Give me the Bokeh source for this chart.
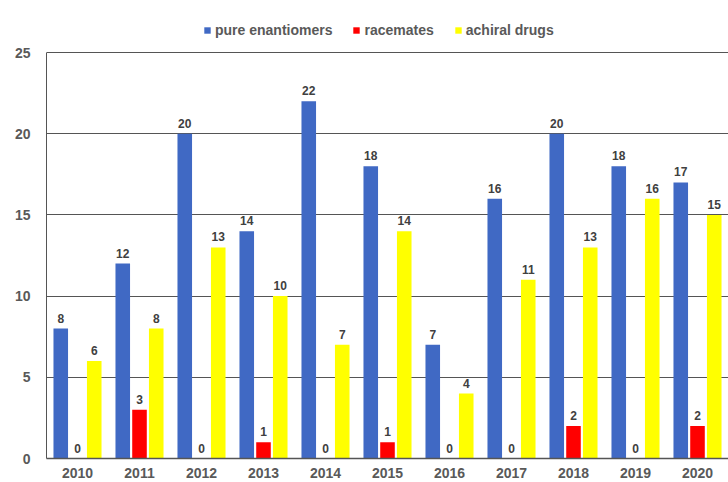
from bokeh.plotting import figure
from bokeh.models import FactorRange, Legend, LegendItem, ColumnDataSource
from bokeh.transform import dodge
from bokeh.core.properties import value
from bokeh.embed import file_html
from bokeh.resources import INLINE

years = ["2010", "2011", "2012", "2013", "2014", "2015", "2016", "2017", "2018", "2019", "2020"]
pure = [8, 12, 20, 14, 22, 18, 7, 16, 20, 18, 17]
racemates = [0, 3, 0, 1, 0, 1, 0, 0, 2, 0, 2]
achiral = [6, 8, 13, 10, 7, 14, 4, 11, 13, 16, 15]
y_ticks = [0, 5, 10, 15, 20, 25]

src = ColumnDataSource(dict(years=years, pure=pure, racemates=racemates, achiral=achiral,
                            pure_t=[str(v) for v in pure],
                            rac_t=[str(v) for v in racemates],
                            ach_t=[str(v) for v in achiral]))

# extra headroom above 25 holds the legend inside the frame
p = figure(x_range=FactorRange(factors=years, range_padding=0), y_range=(0, 27.34),
           width=728, height=482, output_backend="svg", toolbar_location=None,
           min_border_left=46, min_border_right=0, min_border_bottom=24, min_border_top=14)
p.outline_line_color = None

FONT = "Liberation Sans"
colors = ["#4069c4", "#ff0000", "#ffff00"]
offs = [-0.27, 0.0, 0.27]
bw = 0.235
r1 = p.vbar(x=dodge("years", offs[0], range=p.x_range), top="pure", width=bw, source=src,
            fill_color=colors[0], line_color=None)
r2 = p.vbar(x=dodge("years", offs[1], range=p.x_range), top="racemates", width=bw, source=src,
            fill_color=colors[1], line_color=None)
r3 = p.vbar(x=dodge("years", offs[2], range=p.x_range), top="achiral", width=bw, source=src,
            fill_color=colors[2], line_color=None)

for col, top, o in [("pure_t", "pure", offs[0]), ("rac_t", "racemates", offs[1]), ("ach_t", "achiral", offs[2])]:
    p.text(x=dodge("years", o, range=p.x_range), y=top, text=col, source=src,
           text_align="center", text_baseline="bottom", y_offset=-6,
           text_font=value(FONT), text_font_style="bold", text_font_size="12px",
           text_color="#404040")

p.yaxis.ticker = y_ticks
p.yaxis.bounds = (0, 25)
p.ygrid.grid_line_color = "#555555"
p.ygrid.grid_line_width = 1
p.xgrid.grid_line_color = None

for ax in (p.xaxis, p.yaxis):
    ax.major_tick_line_color = None
    ax.minor_tick_line_color = None
    ax.major_label_text_font = FONT
    ax.major_label_text_font_style = "bold"
    ax.major_label_text_font_size = "14px"
    ax.major_label_text_color = "#595959"
p.xaxis.axis_line_color = "#555555"
p.xaxis.axis_line_width = 1.5
p.yaxis.axis_line_color = "#555555"
p.yaxis.axis_line_width = 1
p.xaxis.major_label_standoff = 3
p.yaxis.major_label_standoff = 10

legend = Legend(items=[LegendItem(label="pure enantiomers", renderers=[r1]),
                       LegendItem(label="racemates", renderers=[r2]),
                       LegendItem(label="achiral drugs", renderers=[r3])],
                orientation="horizontal", location=(157, 420),
                glyph_width=8, glyph_height=8, label_standoff=4, spacing=20,
                padding=4, margin=0, label_height=16,
                label_text_font=FONT, label_text_font_style="bold",
                label_text_font_size="14px", label_text_color="#595959",
                border_line_color=None, background_fill_alpha=0)
p.add_layout(legend)

open("out.html", "w").write(file_html(p, INLINE))
